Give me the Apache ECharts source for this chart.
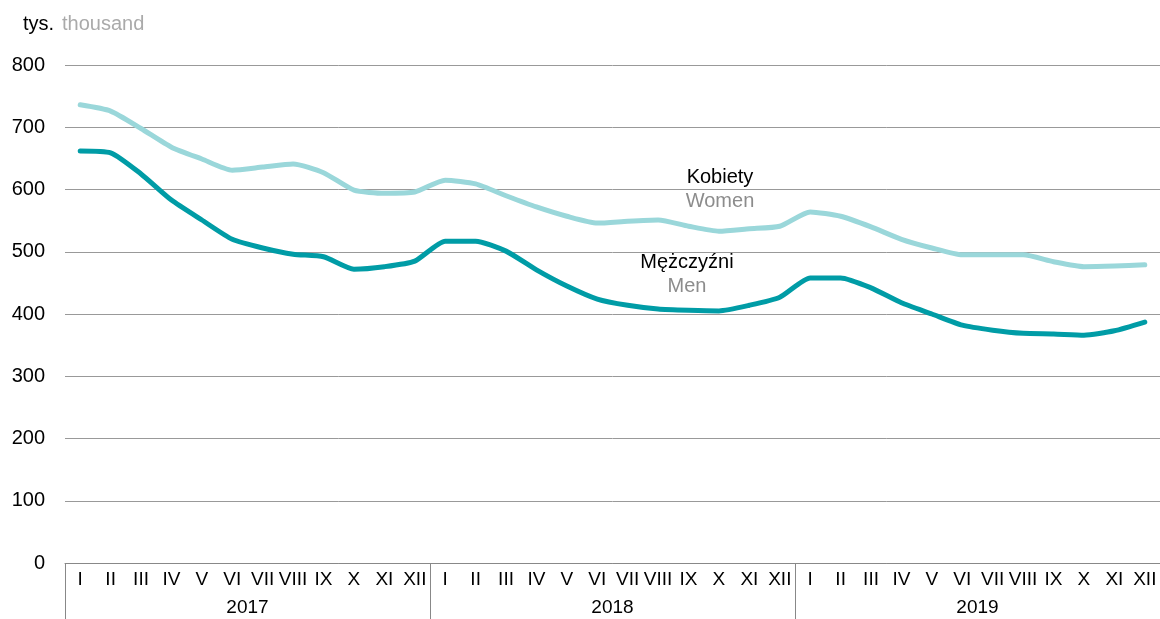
<!DOCTYPE html>
<html>
<head>
<meta charset="utf-8">
<script src="https://cdn.jsdelivr.net/npm/echarts@6/dist/echarts.min.js"></script>
<style>
  html, body { margin: 0; padding: 0; background: #fff; }
  #main { width: 1160px; height: 619px; }
</style>
</head>
<body>
<div id="main"></div>
<script>
var months = ['I','II','III','IV','V','VI','VII','VIII','IX','X','XI','XII'];
var years = ['2017', '2018', '2019'];
var categories = [];
years.forEach(function (y) { months.forEach(function (m) { categories.push(m); }); });

var women = [736, 726, 698, 668, 649, 631, 636, 641, 627, 599, 594, 596,
             615, 609, 590, 572, 557, 546, 549, 551, 541, 533, 537, 541,
             564, 557, 540, 520, 506, 495, 495, 495, 484, 476, 477, 479];
var men = [662, 659, 625, 583, 551, 520, 506, 496, 492, 472, 476, 485,
           517, 517, 501, 471, 445, 424, 414, 408, 406, 405, 414, 427,
           458, 458, 442, 418, 400, 382, 374, 369, 368, 366, 373, 387];
var yTicks = [0, 100, 200, 300, 400, 500, 600, 700, 800];

var chart = echarts.init(document.getElementById('main'));
var font = 'Liberation Sans, Arial, sans-serif';

chart.setOption({
  animation: false,
  textStyle: { fontFamily: font },
  grid: { left: 65, right: 0, top: 65, bottom: 56 },
  graphic: [
    { type: 'text', x: 23, y: 24, style: { text: 'tys.', fill: '#000', font: '20px ' + font, textVerticalAlign: 'middle' } },
    { type: 'text', x: 62, y: 24, style: { text: 'thousand', fill: '#aaa', font: '20px ' + font, textVerticalAlign: 'middle' } },
    { type: 'text', x: 720, y: 177, style: { text: 'Kobiety', fill: '#000', font: '20px ' + font, textAlign: 'center', textVerticalAlign: 'middle' } },
    { type: 'text', x: 720, y: 201, style: { text: 'Women', fill: '#8c8c8c', font: '20px ' + font, textAlign: 'center', textVerticalAlign: 'middle' } },
    { type: 'text', x: 687, y: 262, style: { text: 'Mężczyźni', fill: '#000', font: '20px ' + font, textAlign: 'center', textVerticalAlign: 'middle' } },
    { type: 'text', x: 687, y: 286, style: { text: 'Men', fill: '#8c8c8c', font: '20px ' + font, textAlign: 'center', textVerticalAlign: 'middle' } }
  ],
  xAxis: [
    {
      type: 'category',
      data: categories,
      boundaryGap: true,
      axisLine: { lineStyle: { color: '#888', width: 1 } },
      axisTick: { show: false },
      axisLabel: { color: '#000', fontSize: 19, margin: 7, interval: 0 }
    },
    {
      type: 'category',
      data: years,
      position: 'bottom',
      boundaryGap: true,
      axisLine: { show: false },
      axisTick: { show: true, length: 56, lineStyle: { color: '#888', width: 1 } },
      axisLabel: { color: '#000', fontSize: 19, margin: 35 }
    }
  ],
  yAxis: {
    type: 'value',
    min: 0,
    max: 800,
    interval: 100,
    axisLine: { show: false },
    axisTick: { show: false },
    splitLine: { lineStyle: { color: '#999', width: 1 } },
    axisLabel: {
      color: '#000', fontSize: 20, margin: 20,
      formatter: function (v) { return yTicks.indexOf(v) >= 0 ? String(v) : ''; }
    }
  },
  series: [
    {
      name: 'Kobiety', type: 'line', data: women, xAxisIndex: 0,
      smooth: 0.2, symbol: 'none',
      lineStyle: { color: '#9ad7da', width: 5, cap: 'round', join: 'round' }
    },
    {
      name: 'Mężczyźni', type: 'line', data: men, xAxisIndex: 0,
      smooth: 0.2, symbol: 'none',
      lineStyle: { color: '#009ca6', width: 5, cap: 'round', join: 'round' }
    }
  ]
});
</script>
</body>
</html>
